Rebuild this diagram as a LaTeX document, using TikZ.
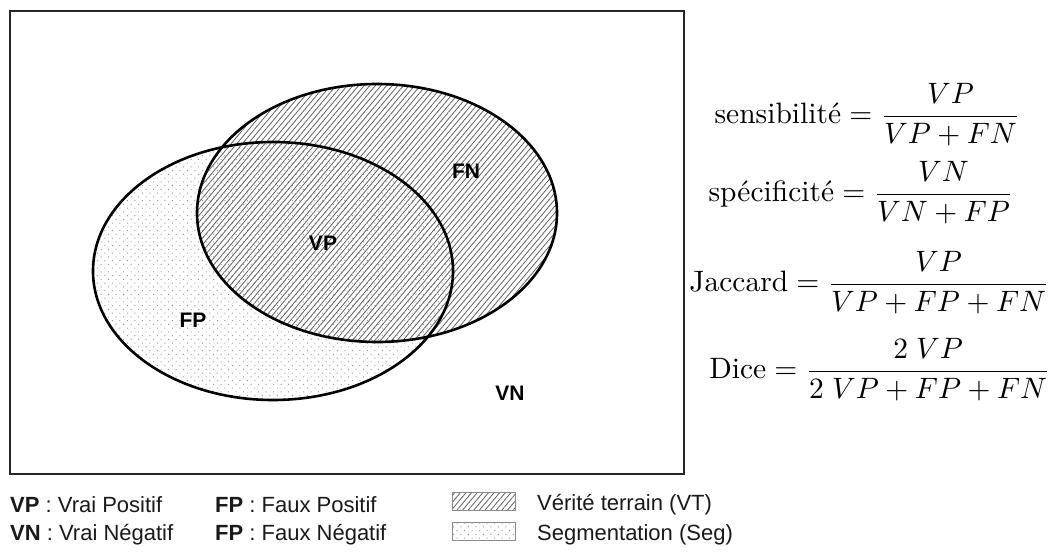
\documentclass[tikz,border=0pt]{standalone}
\usepackage{fontspec}
\newfontfamily\legendfont{Liberation Sans}
\usetikzlibrary{patterns.meta}

\tikzset{
  frame/.style={draw=black!85, line width=2.4pt},
  outline/.style={draw=black, line width=2.6pt},
  vtfill/.style={pattern={Lines[angle=50,distance=4.3pt,line width=0.85pt]}, pattern color=black!60},
  segfill/.style={pattern={Dots[distance=5.3pt,angle=45,radius=0.7pt]}, pattern color=black!40},
  region label/.style={font=\legendfont\bfseries\fontsize{21}{25}\selectfont, inner sep=0pt},
  legend text/.style={font=\legendfont\fontsize{22}{26}\selectfont, anchor=west, inner sep=0pt, text=black!90},
  legend box/.style={draw=black!45, line width=0.9pt},
  formula/.style={scale=2.95, inner sep=0pt}
}

\begin{document}
\begin{tikzpicture}[x=1pt, y=-1pt]
  \useasboundingbox (0,0) rectangle (1051,553);

  % universe
  \node[frame, minimum width=674pt, minimum height=463pt, anchor=north west, inner sep=0pt] (univ) at (9,10) {};

  % segmentation and ground truth regions
  \fill[segfill] (273,271) ellipse [x radius=180, y radius=129];
  \fill[vtfill] (377,213) ellipse [x radius=180, y radius=129];
  \draw[outline] (273,271) ellipse [x radius=180, y radius=129];
  \draw[outline] (377,213) ellipse [x radius=180, y radius=129];

  \node[region label] (vp) at (323,243) {VP};
  \node[region label] (fn) at (466,171) {FN};
  \node[region label] (fp) at (193,320) {FP};
  \node[region label] (vn) at (510,393) {VN};

  % measures
  \node[formula] (sens) at (867.5,115) {$\displaystyle \mbox{sensibilité} = \frac{VP}{VP+FN}$};
  \node[formula] (spec) at (861,193) {$\displaystyle \mbox{spécificité} = \frac{VN}{VN+FP}$};
  \node[formula] (jacc) at (869.5,283) {$\displaystyle \mbox{Jaccard} = \frac{VP}{VP+FP+FN}$};
  \node[formula] (dice) at (880,370) {$\displaystyle \mbox{Dice} = \frac{2\;VP}{2\;VP+FP+FN}$};

  % legend
  \node[legend text] (l1) at (10,505) {\textbf{VP} : Vrai Positif};
  \node[legend text] (l2) at (10,535) {\textbf{VN} : Vrai Négatif};
  \node[legend text] (l3) at (215,505) {\textbf{FP} : Faux Positif};
  \node[legend text] (l4) at (215,535) {\textbf{FP} : Faux Négatif};

  \fill[vtfill] (452,492) rectangle (515,510);
  \draw[legend box] (452,492) rectangle (515,510);
  \fill[segfill] (452,522) rectangle (515,540);
  \draw[legend box] (452,522) rectangle (515,540);

  \node[legend text] (l5) at (537,505) {Vérité terrain (VT)};
  \node[legend text] (l6) at (537,535) {Segmentation (Seg)};
\end{tikzpicture}
\end{document}
